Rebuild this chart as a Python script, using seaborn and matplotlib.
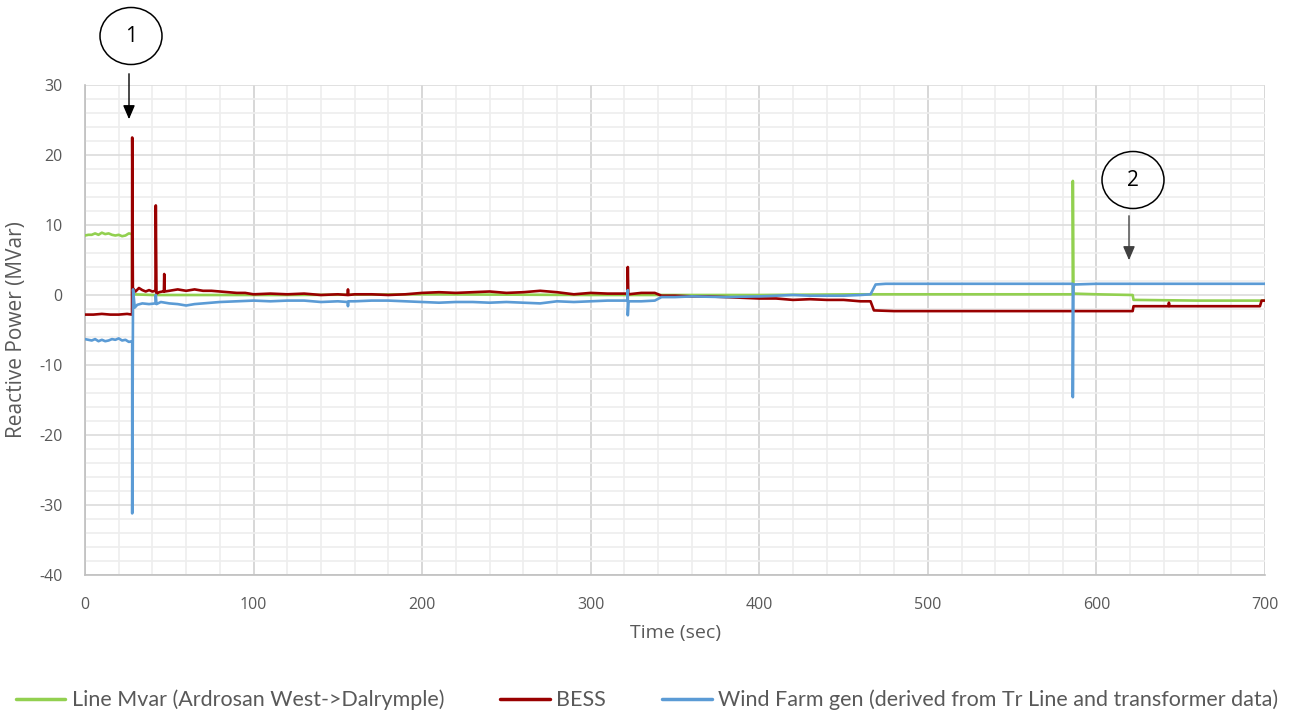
import pandas as pd
import matplotlib
matplotlib.use("Agg")
import matplotlib.pyplot as plt
import seaborn as sns
from matplotlib.lines import Line2D
from matplotlib.patches import Ellipse
from matplotlib.ticker import MultipleLocator

# --- data ---
series_names = ["Line Mvar (Ardrosan West->Dalrymple)", "BESS",
                "Wind Farm gen (derived from Tr Line and transformer data)"]
series_colors = ["#92d050", "#990000", "#5b9bd5"]

line_t = [0, 2, 4, 6, 8, 10, 12, 14, 16, 18,
          20, 22, 24, 26, 27.9, 28, 40, 80, 120, 200,
          300, 340, 400, 460, 500, 560, 586, 586, 586.3, 600,
          621.5, 622, 660, 700]
line_v = [8.5, 8.6, 8.6, 8.8, 8.6, 8.9, 8.7, 8.8, 8.6, 8.5,
          8.6, 8.4, 8.5, 8.8, 8.7, 0.1, 0.0, 0.0, 0.0, 0.1,
          0.0, 0.0, 0.0, 0.1, 0.1, 0.1, 0.1, 16.3, 0.2, 0.1,
          0.0, -0.7, -0.8, -0.8]

bess_t = [0, 5, 10, 15, 20, 25, 27.9, 28, 28.4, 29,
          30, 32, 34, 36, 38, 40, 41.8, 42, 42.4, 44,
          46, 46.8, 47, 47.3, 50, 55, 60, 65, 70, 75,
          80, 85, 90, 95, 100, 110, 120, 130, 140, 150,
          155.8, 156, 156.2, 160, 170, 180, 190, 200, 210, 220,
          230, 240, 250, 260, 270, 280, 290, 300, 310, 320,
          321.8, 322, 322.3, 330, 338, 342, 350, 360, 370, 380,
          390, 400, 410, 420, 430, 440, 450, 460, 466, 468,
          480, 500, 540, 586, 600, 621.5, 622, 642.8, 643, 643.3,
          660, 680, 697, 698, 700]
bess_v = [-2.8, -2.8, -2.7, -2.8, -2.8, -2.7, -2.8, 22.5, 1.0, 0.8,
          0.5, 1.0, 0.7, 0.5, 0.7, 0.5, 0.6, 12.8, 0.2, 0.4,
          0.5, 0.5, 3.0, 0.5, 0.6, 0.8, 0.6, 0.8, 0.6, 0.6,
          0.5, 0.4, 0.3, 0.3, 0.1, 0.2, 0.1, 0.2, 0.0, 0.1,
          0.0, 0.8, 0.0, 0.1, 0.1, 0.0, 0.1, 0.3, 0.4, 0.3,
          0.4, 0.5, 0.3, 0.4, 0.6, 0.4, 0.1, 0.3, 0.2, 0.2,
          0.2, 4.0, 0.1, 0.3, 0.3, -0.1, -0.1, -0.2, -0.2, -0.3,
          -0.4, -0.5, -0.5, -0.7, -0.6, -0.7, -0.7, -0.9, -0.9, -2.2,
          -2.3, -2.3, -2.3, -2.3, -2.3, -2.3, -1.6, -1.6, -1.1, -1.6,
          -1.6, -1.6, -1.6, -0.8, -0.8]

wind_t = [0, 2, 4, 6, 8, 10, 12, 14, 16, 18,
          20, 22, 24, 26, 27.9, 28, 28, 28.5, 29.5, 31,
          34, 38, 41.8, 42, 42.4, 45, 50, 55, 60, 65,
          70, 80, 90, 100, 110, 120, 130, 140, 150, 155.8,
          156, 156.3, 160, 170, 180, 190, 200, 210, 220, 230,
          240, 250, 260, 270, 280, 290, 300, 310, 320, 321.8,
          322, 322, 322.4, 330, 338, 342, 350, 360, 380, 400,
          410, 420, 430, 440, 450, 460, 466, 469, 475, 500,
          550, 585.8, 586, 586, 586.3, 600, 650, 700]
wind_v = [-6.3, -6.4, -6.5, -6.3, -6.6, -6.4, -6.6, -6.5, -6.3, -6.4,
          -6.2, -6.5, -6.4, -6.7, -6.6, -6.7, -31.2, 0.8, -1.8, -1.4,
          -1.2, -1.3, -1.2, 0.0, -1.3, -1.0, -1.2, -1.3, -1.5, -1.3,
          -1.2, -1.0, -0.9, -0.8, -0.9, -0.8, -0.8, -1.0, -0.9, -1.0,
          -1.6, -0.9, -0.9, -0.8, -0.8, -0.9, -1.0, -1.1, -1.0, -1.0,
          -1.1, -1.0, -1.1, -1.2, -0.9, -1.0, -0.9, -0.8, -0.8, -0.8,
          0.7, -2.9, -0.9, -0.9, -0.8, -0.3, -0.3, -0.2, -0.3, -0.2,
          -0.1, 0.0, -0.1, -0.1, -0.1, 0.0, 0.1, 1.5, 1.6, 1.6,
          1.6, 1.6, 1.6, -14.6, 1.5, 1.6, 1.6, 1.6]

x_ticks = [0, 100, 200, 300, 400, 500, 600, 700]
y_ticks = [-40, -30, -20, -10, 0, 10, 20, 30]

df = pd.concat([
    pd.DataFrame({"t": line_t, "v": line_v, "series": series_names[0]}),
    pd.DataFrame({"t": bess_t, "v": bess_v, "series": series_names[1]}),
    pd.DataFrame({"t": wind_t, "v": wind_v, "series": series_names[2]}),
], ignore_index=True)

sns.set_theme(style="white")
plt.rcParams["font.family"] = ["Open Sans", "DejaVu Sans"]
plt.rcParams["axes.unicode_minus"] = False
W, H = 1290, 713
fig = plt.figure(figsize=(W / 100, H / 100), dpi=100)
ax = fig.add_axes([85 / W, 1 - 575 / H, 1180 / W, 490 / H])

sns.lineplot(data=df, x="t", y="v", hue="series", hue_order=series_names,
             palette=dict(zip(series_names, series_colors)), estimator=None,
             sort=False, linewidth=1.9, legend=False, ax=ax, zorder=3)

ax.set_xlim(0, 700)
ax.set_ylim(-40, 30)
ax.set_xticks(x_ticks)
ax.set_yticks(y_ticks)
ax.xaxis.set_minor_locator(MultipleLocator(20))
ax.yaxis.set_minor_locator(MultipleLocator(2))
ax.grid(which="minor", color="#eeeeee", linewidth=1.2, zorder=0)
ax.grid(which="major", axis="x", color="#d4d4d4", linewidth=1.3, zorder=1)
ax.grid(which="major", axis="y", color="#dcdcdc", linewidth=1.2, zorder=1)
ax.set_axisbelow(True)
for side in ["top", "right"]:
    ax.spines[side].set_visible(False)
for side in ["left", "bottom"]:
    ax.spines[side].set_color("#bfbfbf")
    ax.spines[side].set_linewidth(1.2)
ax.tick_params(length=0, labelsize=11.5, labelcolor="#595959")
ax.tick_params(axis="y", pad=16)
ax.tick_params(axis="x", pad=16)
ax.set_xlabel("Time (sec)", fontsize=14, color="#595959", va="top")
ax.set_ylabel("Reactive Power (MVar)", fontsize=15, color="#595959")
ax.xaxis.set_label_coords(0.5, (575 - 624) / 490)
ax.yaxis.set_label_coords((27 - 85) / 1180, 0.5)


def fpos(px, py):
    return (px / W, 1 - py / H)


# numbered callouts
for label, cx, cy, ax_x, y0, y1, lc in [("1", 131, 36, 129, 71, 122, "black"),
                                         ("2", 1133, 180, 1129, 213, 263, "#404040")]:
    fig.patches.append(Ellipse(fpos(cx, cy), 62 / W, 57 / H, transform=fig.transFigure,
                               fill=False, edgecolor="black", linewidth=1.1))
    fig.text(*fpos(cx, cy), label, ha="center", va="center", fontsize=15, color="black")
    ax.annotate("", xy=fpos(ax_x, y1), xycoords="figure fraction",
                xytext=fpos(ax_x, y0), textcoords="figure fraction",
                arrowprops=dict(arrowstyle="-|>,head_length=0.7,head_width=0.3",
                                color=lc, linewidth=1.0))

handles = [Line2D([0], [0], color=c, linewidth=2.5) for c in series_colors]
leg = fig.legend(handles, series_names, loc="center", bbox_to_anchor=fpos(647, 700),
                 ncol=3, frameon=False, borderpad=0, handlelength=2.3, handletextpad=0.3,
                 columnspacing=2.6, prop={"family": ["Lato", "DejaVu Sans"], "size": 15.5})
for txt in leg.get_texts():
    txt.set_color("#595959")

fig.savefig("out.png", dpi=100)
